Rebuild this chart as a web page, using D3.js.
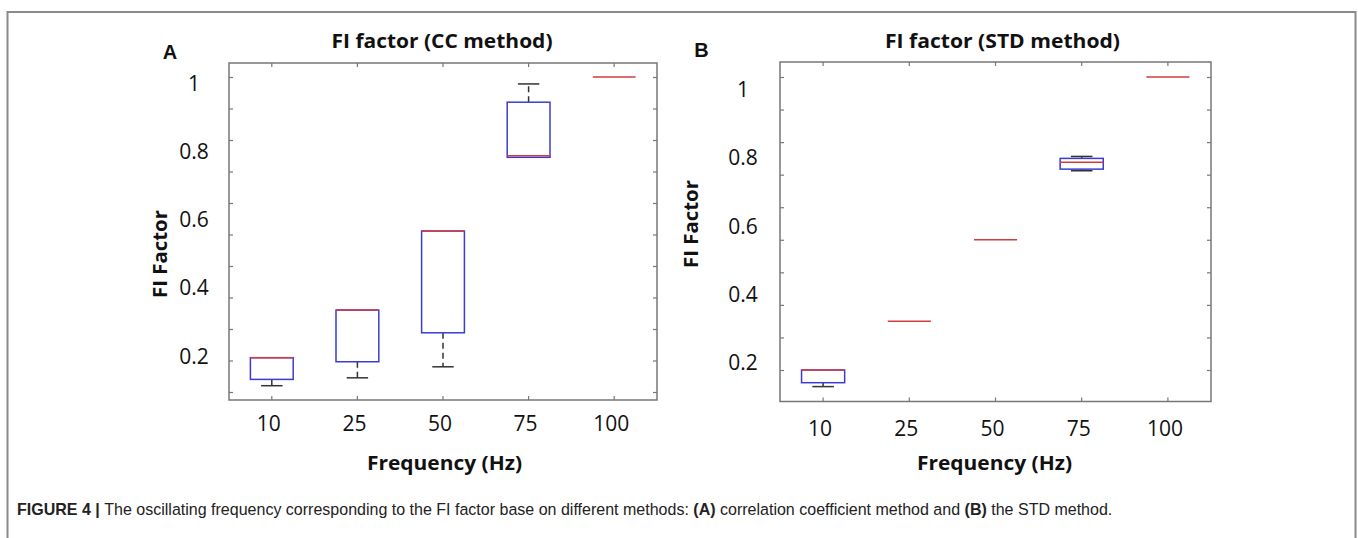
<!DOCTYPE html>
<html>
<head>
<meta charset="utf-8">
<script src="https://cdn.jsdelivr.net/npm/d3@7.9.0/dist/d3.min.js"></script>
<style>
  body { margin: 0; background: #fff; }
  svg { display: block; }
</style>
</head>
<body>
<div id="chart"></div>
<script>
// categories + labels
const freqLabels = ["10", "25", "50", "75", "100"];
const yTickLabels = [0.2, 0.4, 0.6, 0.8, 1];

// panel A - CC method, box summary per frequency
const ccLow    = [0.020, 0.045, 0.080, 0.745, 1.0];
const ccQ1     = [0.040, 0.096, 0.188, 0.745, 1.0];
const ccMedian = [0.109, 0.260, 0.511, 0.750, 1.0];
const ccQ3     = [0.109, 0.260, 0.511, 0.920, 1.0];
const ccHigh   = [0.109, 0.260, 0.511, 0.978, 1.0];

// panel B - STD method
const stdLow    = [0.049, 0.25, 0.50, 0.712, 1.0];
const stdQ1     = [0.061, 0.25, 0.50, 0.717, 1.0];
const stdMedian = [0.100, 0.25, 0.50, 0.738, 1.0];
const stdQ3     = [0.100, 0.25, 0.50, 0.750, 1.0];
const stdHigh   = [0.100, 0.25, 0.50, 0.756, 1.0];

const boxColor = "#3b3bd3";
const medColor = "#d23c3c";
const frameColor = "#777";

const svg = d3.select("#chart").append("svg")
    .attr("width", 1358)
    .attr("height", 538)
    .style("font-family", "'Open Sans', sans-serif");

// outer figure frame (bottom is cut off in the picture)
svg.append("path")
    .attr("d", "M7.5,538V12H1355.5V538")
    .attr("fill", "none")
    .attr("stroke", "#8a8a8a")
    .attr("stroke-width", 2);

function drawPanel(p) {
    const rows = freqLabels.map((f, i) => ({
        f: f, low: p.low[i], q1: p.q1[i], med: p.med[i], q3: p.q3[i], high: p.high[i]
    }));

    const x = d3.scaleBand().domain(freqLabels).range([p.left, p.right]);
    const y = d3.scaleLinear().domain(p.yDomain).range(p.yRange);
    // the printed tick labels sit a bit off the plot ticks in the original
    const yLab = d3.scaleLinear().domain([0.2, 1]).range(p.labRange);
    const cx = (d) => x(d) + x.bandwidth() / 2;
    const bw = x.bandwidth() / 2;
    const capW = x.bandwidth() / 4;

    const g = svg.append("g");

    // inward ticks on all four sides
    const yTicks = y.ticks(10);
    const axes = [
        [d3.axisLeft(y).tickValues(yTicks), `translate(${p.left},0)`],
        [d3.axisRight(y).tickValues(yTicks), `translate(${p.right},0)`],
        [d3.axisBottom(x), `translate(0,${p.bottom})`],
        [d3.axisTop(x), `translate(0,${p.top})`]
    ];
    axes.forEach(([ax, tr]) => {
        const a = g.append("g").attr("transform", tr)
            .call(ax.tickSize(-4).tickFormat(""));
        a.select(".domain").remove();
        a.selectAll("line").attr("stroke", frameColor).attr("stroke-width", 1.2);
    });

    g.append("rect")
        .attr("x", p.left).attr("y", p.top)
        .attr("width", p.right - p.left).attr("height", p.bottom - p.top)
        .attr("fill", "none")
        .attr("stroke", frameColor)
        .attr("stroke-width", 1.5);

    // whiskers (dashed) + caps
    rows.forEach(d => {
        const c = cx(d.f);
        if (d.high > d.q3) {
            g.append("line").attr("x1", c).attr("x2", c)
                .attr("y1", y(d.q3)).attr("y2", y(d.high))
                .attr("stroke", "#333").attr("stroke-width", 1.5)
                .attr("stroke-dasharray", "6,4");
            g.append("line").attr("x1", c - capW / 2).attr("x2", c + capW / 2)
                .attr("y1", y(d.high)).attr("y2", y(d.high))
                .attr("stroke", "#333").attr("stroke-width", 1.5);
        }
        if (d.low < d.q1) {
            g.append("line").attr("x1", c).attr("x2", c)
                .attr("y1", y(d.q1)).attr("y2", y(d.low))
                .attr("stroke", "#333").attr("stroke-width", 1.5)
                .attr("stroke-dasharray", "6,4");
            g.append("line").attr("x1", c - capW / 2).attr("x2", c + capW / 2)
                .attr("y1", y(d.low)).attr("y2", y(d.low))
                .attr("stroke", "#333").attr("stroke-width", 1.5);
        }
    });

    // boxes
    g.selectAll(".box")
        .data(rows.filter(d => d.q3 > d.q1))
        .enter()
        .append("rect")
        .attr("class", "box")
        .attr("x", d => cx(d.f) - bw / 2)
        .attr("y", d => y(d.q3))
        .attr("width", bw)
        .attr("height", d => y(d.q1) - y(d.q3))
        .attr("fill", "none")
        .attr("stroke", boxColor)
        .attr("stroke-width", 1.5);

    // medians
    g.selectAll(".med")
        .data(rows)
        .enter()
        .append("line")
        .attr("class", "med")
        .attr("x1", d => cx(d.f) - bw / 2)
        .attr("x2", d => cx(d.f) + bw / 2)
        .attr("y1", d => y(d.med))
        .attr("y2", d => y(d.med))
        .attr("stroke", medColor)
        .attr("stroke-width", 1.5);

    // y tick labels
    g.selectAll(".ylab")
        .data(yTickLabels)
        .enter()
        .append("text")
        .attr("x", p.labX)
        .attr("y", d => yLab(d) + 7.5)
        .attr("text-anchor", "middle")
        .attr("font-size", 21)
        .attr("fill", "#111")
        .text(d => d);

    // x tick labels
    g.selectAll(".xlab")
        .data(freqLabels)
        .enter()
        .append("text")
        .attr("x", d => cx(d) - 3)
        .attr("y", p.xLabY + 7.5)
        .attr("text-anchor", "middle")
        .attr("font-size", 21)
        .attr("fill", "#111")
        .text(d => d);

    // titles
    g.append("text")
        .attr("x", p.titleX).attr("y", 47.5)
        .attr("text-anchor", "middle")
        .attr("font-size", 20).attr("font-weight", "bold")
        .attr("textLength", p.titleW).attr("lengthAdjust", "spacingAndGlyphs")
        .attr("fill", "#111")
        .text(p.title);

    g.append("text")
        .attr("x", p.xTitleX).attr("y", 470)
        .attr("text-anchor", "middle")
        .attr("font-size", 20).attr("font-weight", "bold")
        .attr("textLength", 155).attr("lengthAdjust", "spacingAndGlyphs")
        .attr("fill", "#111")
        .text("Frequency (Hz)");

    g.append("text")
        .attr("transform", `translate(${p.yTitleX},${p.yTitleY}) rotate(-90)`)
        .attr("text-anchor", "middle")
        .attr("font-size", 20).attr("font-weight", "bold")
        .attr("textLength", 88).attr("lengthAdjust", "spacingAndGlyphs")
        .attr("fill", "#111")
        .text("FI Factor");

    g.append("text")
        .attr("x", p.letterX).attr("y", p.letterY)
        .attr("text-anchor", "middle")
        .attr("font-family", "'Liberation Sans', Arial, sans-serif")
        .attr("font-size", 20).attr("font-weight", "bold")
        .attr("fill", "#111")
        .text(p.letter);
}

drawPanel({
    low: ccLow, q1: ccQ1, med: ccMedian, q3: ccQ3, high: ccHigh,
    left: 229, right: 657, top: 63, bottom: 400,
    yDomain: [0, 1], yRange: [392, 77], labRange: [356, 83.5],
    labX: 194, xLabY: 423,
    title: "FI factor (CC method)", titleX: 442, titleW: 221,
    xTitleX: 444.5, yTitleX: 167, yTitleY: 254,
    letter: "A", letterX: 170, letterY: 59
});

drawPanel({
    low: stdLow, q1: stdQ1, med: stdMedian, q3: stdQ3, high: stdHigh,
    left: 780, right: 1211, top: 62, bottom: 401.5,
    yDomain: [0.1, 1], yRange: [370, 77], labRange: [362.5, 89.5],
    labX: 743, xLabY: 428,
    title: "FI factor (STD method)", titleX: 1002.5, titleW: 235,
    xTitleX: 994.5, yTitleX: 698, yTitleY: 224,
    letter: "B", letterX: 701.5, letterY: 56.5
});

// caption
const cap = svg.append("text")
    .attr("x", 17).attr("y", 515)
    .attr("font-family", "'Liberation Sans', Arial, sans-serif")
    .attr("font-size", 14)
    .attr("fill", "#222");
cap.append("tspan").attr("font-weight", "bold").text("FIGURE 4 | ");
cap.append("tspan").text("The oscillating frequency corresponding to the FI factor base on different methods: ");
cap.append("tspan").attr("font-weight", "bold").text("(A)");
cap.append("tspan").text(" correlation coefficient method and ");
cap.append("tspan").attr("font-weight", "bold").text("(B)");
cap.append("tspan").text(" the STD method.");

// squeeze caption to the printed width
const capLen = cap.node().getComputedTextLength();
if (capLen > 0) cap.attr("font-size", 14 * 1096 / capLen);
</script>
</body>
</html>
